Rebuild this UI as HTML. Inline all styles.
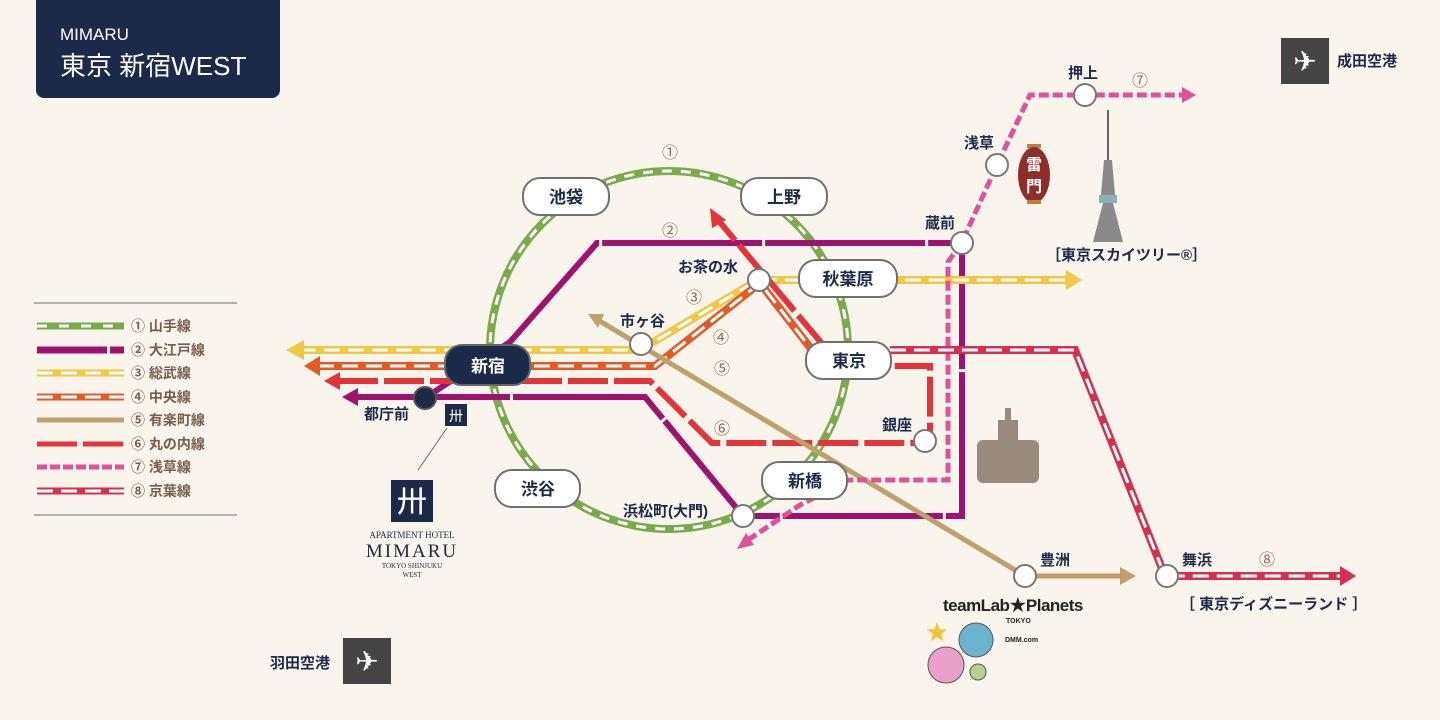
<!DOCTYPE html>
<html><head><meta charset="utf-8"><style>
html,body{margin:0;padding:0;background:#f9f4ec;}
svg{display:block;font-family:"Liberation Sans","Noto Sans CJK JP",sans-serif;}
.st{font-size:15px;font-weight:bold;fill:#1c2a4a;}
.pl{font-size:17px;font-weight:bold;fill:#1c2a4a;}
.num{font-size:16px;fill:#8a6a55;}
.lg{font-size:14px;font-weight:bold;fill:#7a5e4a;}
</style></head><body>
<svg width="1440" height="720" viewBox="0 0 1440 720" xmlns="http://www.w3.org/2000/svg">
<rect width="1440" height="720" fill="#f9f4ec"/>
<path d="M36 0H280V90a8 8 0 0 1-8 8H44a8 8 0 0 1-8-8Z" fill="#1c2a4a"/>
<text x="60" y="40" fill="#fff" font-size="17">MIMARU</text>
<text x="60" y="75" fill="#fff" font-size="26">東京 新宿WEST</text>

<circle cx="669" cy="350" r="179" fill="none" stroke="#7aab4a" stroke-width="8"/>
<circle cx="669" cy="350" r="179" fill="none" stroke="#fff" stroke-width="3" stroke-dasharray="10 9"/>

<g fill="none" stroke="#a0126f" stroke-width="6">
<path d="M350 397H645L743 516H962V243H597L510 342L425 398" stroke-dasharray="160 3"/>
</g>
<polygon points="342,397 358,388 358,406" fill="#a0126f"/>

<path d="M300 350H640L758 280H1068" fill="none" stroke="#f2c744" stroke-width="8"/>
<path d="M300 350H640L758 280H1068" fill="none" stroke="#fff" stroke-width="3" stroke-dasharray="16 8"/>
<polygon points="286,350 304,340 304,360" fill="#f2c744"/>
<polygon points="1082,280 1066,270 1066,290" fill="#f2c744"/>

<path d="M318 366H655L760 283L812 350" fill="none" stroke="#e35a26" stroke-width="8"/>
<path d="M318 366H655L760 283L812 350" fill="none" stroke="#fff" stroke-width="3" stroke-dasharray="16 8"/>
<polygon points="304,366 320,356 320,376" fill="#e35a26"/>

<path d="M338 381H650L712 443H930V366H890" fill="none" stroke="#e5333a" stroke-width="6" stroke-dasharray="40 6"/>
<path d="M824 346L718 220" fill="none" stroke="#e5333a" stroke-width="6" stroke-dasharray="40 6"/>
<polygon points="324,381 340,372 340,390" fill="#e5333a"/>
<polygon points="710,208 726,220 712,228" fill="#e5333a"/>

<path d="M598 320L1025 576H1122" fill="none" stroke="#bfa06a" stroke-width="5"/>
<polygon points="588,314 604,314 598,328" fill="#bfa06a"/>
<polygon points="1136,576 1120,567 1120,585" fill="#bfa06a"/>

<path d="M748 540L800 505L848 480H948V262L962 242L997 165L1030 95H1182" fill="none" stroke="#e0519a" stroke-width="5" stroke-dasharray="10 4"/>
<polygon points="737,549 746,533 754,545" fill="#e0519a"/>
<polygon points="1196,95 1182,87 1182,103" fill="#e0519a"/>

<path d="M890 350H1075L1165 576H1340" fill="none" stroke="#d4304f" stroke-width="8"/>
<path d="M890 350H1075L1165 576H1340" fill="none" stroke="#fff" stroke-width="3" stroke-dasharray="16 8"/>
<polygon points="1356,576 1340,566 1340,586" fill="#d4304f"/>

<g fill="#fff" stroke="#777" stroke-width="2">
<circle cx="641" cy="344" r="11"/><circle cx="759" cy="280" r="11"/>
<circle cx="962" cy="243" r="11"/><circle cx="997" cy="165" r="11"/>
<circle cx="1085" cy="95" r="11"/><circle cx="925" cy="441" r="11"/>
<circle cx="743" cy="516" r="11"/><circle cx="1025" cy="576" r="11"/>
<circle cx="1167" cy="576" r="11"/>
</g>
<circle cx="425" cy="398" r="11" fill="#1c2a4a" stroke="#555" stroke-width="2"/>

<g fill="#fff" stroke="#707070" stroke-width="2">
<rect x="523" y="178" width="86" height="37" rx="17"/>
<rect x="741" y="178" width="86" height="37" rx="17"/>
<rect x="799" y="260" width="98" height="37" rx="17"/>
<rect x="806" y="342" width="85" height="37" rx="17"/>
<rect x="762" y="462" width="85" height="37" rx="17"/>
<rect x="495" y="470" width="85" height="37" rx="17"/>
</g>
<rect x="445" y="345" width="85" height="40" rx="17" fill="#1c2a4a" stroke="#666" stroke-width="2"/>
<g class="pl" text-anchor="middle">
<text x="566" y="203">池袋</text><text x="784" y="203">上野</text>
<text x="848" y="285">秋葉原</text><text x="849" y="367">東京</text>
<text x="805" y="487">新橋</text><text x="538" y="495">渋谷</text>
<text x="488" y="372" fill="#fff">新宿</text>
</g>

<g class="st">
<text x="620" y="326">市ヶ谷</text><text x="678" y="272">お茶の水</text>
<text x="925" y="228">蔵前</text><text x="964" y="148">浅草</text>
<text x="1068" y="78">押上</text><text x="882" y="430">銀座</text>
<text x="623" y="516">浜松町(大門)</text><text x="1040" y="565">豊洲</text>
<text x="1182" y="565">舞浜</text><text x="364" y="419">都庁前</text>
</g>
<g class="num" text-anchor="middle">
<text x="670" y="158">①</text><text x="670" y="236">②</text>
<text x="694" y="303">③</text><text x="721" y="343">④</text>
<text x="722" y="374">⑤</text><text x="722" y="434">⑥</text>
<text x="1140" y="86">⑦</text><text x="1267" y="565">⑧</text>
</g>

<rect x="445" y="404" width="22" height="22" fill="#1c2a4a"/>
<text x="456" y="421" fill="#fff" font-size="14" text-anchor="middle">卅</text>
<line x1="447" y1="428" x2="418" y2="470" stroke="#666"/>
<rect x="391" y="480" width="42" height="42" fill="#1c2a4a"/>
<text x="412" y="512" fill="#fff" font-size="30" text-anchor="middle">卅</text>
<text x="412" y="538" fill="#1c2a4a" font-size="9" text-anchor="middle" font-family="Liberation Serif">APARTMENT HOTEL</text>
<text x="412" y="557" fill="#1c2a4a" font-size="19" text-anchor="middle" font-family="Liberation Serif" letter-spacing="2">MIMARU</text>
<text x="412" y="568" fill="#1c2a4a" font-size="7" text-anchor="middle" font-family="Liberation Serif">TOKYO SHINJUKU</text>
<text x="412" y="577" fill="#1c2a4a" font-size="7" text-anchor="middle" font-family="Liberation Serif">WEST</text>

<line x1="34" y1="303" x2="237" y2="303" stroke="#999" stroke-width="1.5"/>
<line x1="34" y1="515" x2="237" y2="515" stroke="#999" stroke-width="1.5"/>
<g stroke-width="7" fill="none">
<line x1="37" y1="326" x2="124" y2="326" stroke="#7aab4a"/><line x1="37" y1="326" x2="124" y2="326" stroke="#fff" stroke-width="3" stroke-dasharray="10 12"/>
<line x1="37" y1="350" x2="124" y2="350" stroke="#a0126f" stroke-dasharray="70 3"/>
<line x1="37" y1="373" x2="124" y2="373" stroke="#f2c744"/><line x1="37" y1="373" x2="124" y2="373" stroke="#fff" stroke-width="3" stroke-dasharray="16 8"/>
<line x1="37" y1="397" x2="124" y2="397" stroke="#e35a26"/><line x1="37" y1="397" x2="124" y2="397" stroke="#fff" stroke-width="3" stroke-dasharray="16 8"/>
<line x1="37" y1="420" x2="124" y2="420" stroke="#bfa06a" stroke-width="5"/>
<line x1="37" y1="444" x2="124" y2="444" stroke="#e5333a" stroke-width="5" stroke-dasharray="40 6"/>
<line x1="37" y1="467" x2="124" y2="467" stroke="#e0519a" stroke-width="5" stroke-dasharray="10 3"/>
<line x1="37" y1="491" x2="124" y2="491" stroke="#d4304f"/><line x1="37" y1="491" x2="124" y2="491" stroke="#fff" stroke-width="3" stroke-dasharray="16 8"/>
</g>
<g class="lg">
<text x="131" y="331">① 山手線</text><text x="131" y="355">② 大江戸線</text>
<text x="131" y="378">③ 総武線</text><text x="131" y="402">④ 中央線</text>
<text x="131" y="425">⑤ 有楽町線</text><text x="131" y="449">⑥ 丸の内線</text>
<text x="131" y="472">⑦ 浅草線</text><text x="131" y="496">⑧ 京葉線</text>
</g>

<rect x="343" y="638" width="48" height="46" fill="#444"/>
<text x="367" y="671" fill="#fff" font-size="28" text-anchor="middle">✈</text>
<text x="270" y="668" class="st" font-size="14">羽田空港</text>
<rect x="1281" y="38" width="48" height="46" fill="#444"/>
<text x="1305" y="71" fill="#fff" font-size="28" text-anchor="middle">✈</text>
<text x="1337" y="66" class="st" font-size="14">成田空港</text>

<rect x="1027" y="144" width="14" height="4" fill="#b7833a"/>
<ellipse cx="1034" cy="175" rx="16" ry="28" fill="#8e2e2a"/>
<rect x="1027" y="200" width="14" height="4" fill="#b7833a"/>
<text x="1034" y="170" fill="#fff" font-size="16" text-anchor="middle" font-weight="bold">雷</text>
<text x="1034" y="192" fill="#fff" font-size="16" text-anchor="middle" font-weight="bold">門</text>

<line x1="1108" y1="110" x2="1108" y2="160" stroke="#666" stroke-width="2"/>
<polygon points="1104,160 1112,160 1115,195 1101,195" fill="#8a8a8a"/>
<rect x="1099" y="195" width="18" height="8" fill="#8ab0b8"/>
<polygon points="1103,203 1113,203 1123,242 1093,242" fill="#8a8a8a"/>
<text x="1046" y="260" class="st" font-size="13">［東京スカイツリー®］</text>

<rect x="977" y="440" width="62" height="43" fill="#9a8a7c" rx="6"/>
<rect x="998" y="420" width="20" height="20" fill="#9a8a7c"/>
<rect x="1005" y="408" width="6" height="12" fill="#9a8a7c"/>

<text x="943" y="611" font-size="17" font-weight="bold" fill="#222" letter-spacing="-0.5">teamLab★Planets</text>
<text x="1006" y="623" font-size="7" font-weight="bold" fill="#222">TOKYO</text>
<text x="1005" y="642" font-size="7" font-weight="bold" fill="#222">DMM.com</text>
<text x="926" y="640" font-size="22" fill="#f4c430">★</text>
<circle cx="976" cy="640" r="17" fill="#6fb2d0" stroke="#555"/>
<circle cx="946" cy="665" r="18" fill="#eaa0c8" stroke="#555"/>
<circle cx="978" cy="672" r="8" fill="#b8d090" stroke="#555"/>
<text x="1180" y="609" class="st" font-size="12">［ 東京ディズニーランド ］</text>
</svg>
</body></html>
